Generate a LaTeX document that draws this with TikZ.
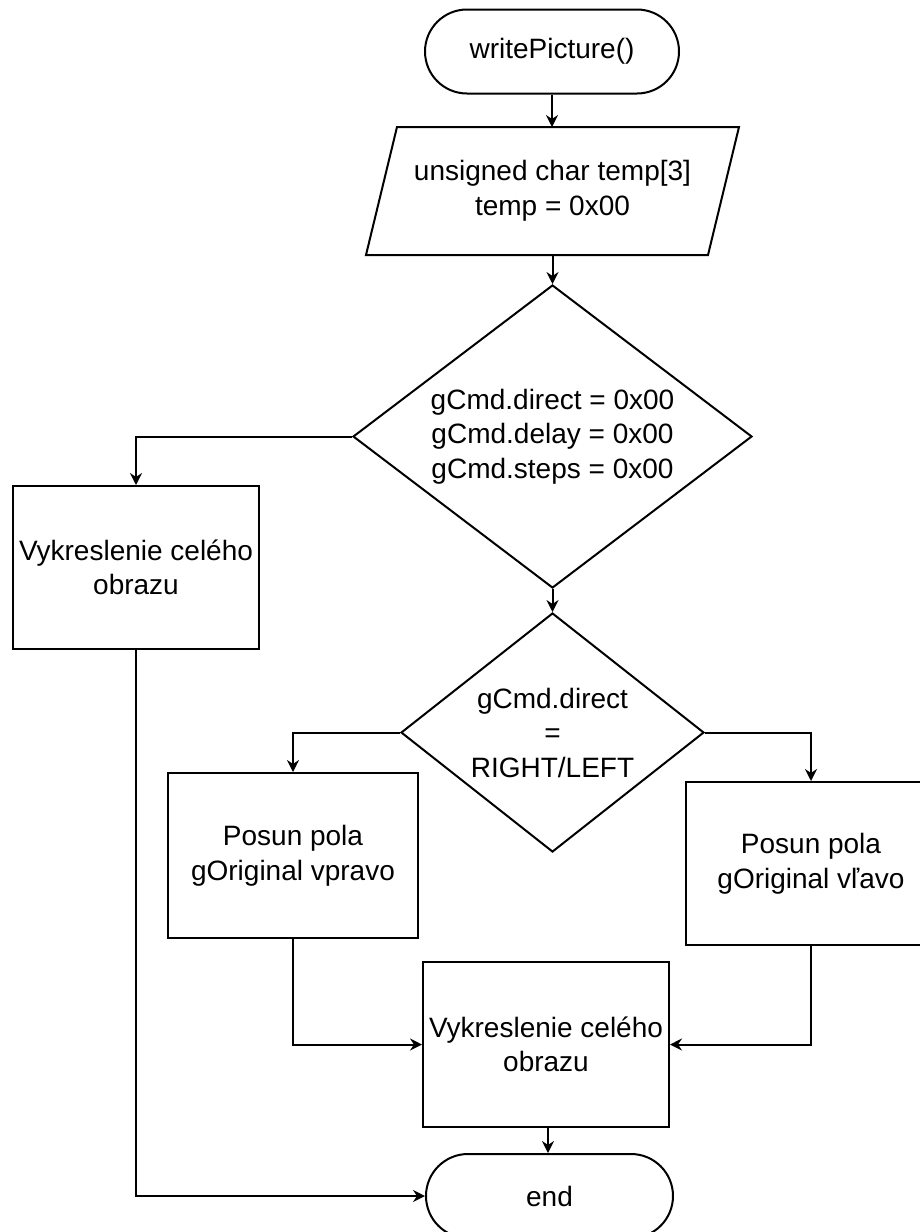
\documentclass[tikz,border=0pt]{standalone}
\usepackage{fontspec}
\setmainfont{Liberation Sans}
\usetikzlibrary{shapes.geometric,shapes.misc,arrows.meta}
\begin{document}
\begin{tikzpicture}[x=1pt,y=-1pt,line width=2pt,
  every node/.style={font=\fontsize{28}{34.5}\selectfont,align=center,inner sep=0pt},
  terminal/.style={draw,rounded rectangle,minimum width=#1,minimum height=84pt},
  procbox/.style={draw,rectangle,minimum width=#1},
  iobox/.style={rectangle,minimum width=340pt,minimum height=126pt},
  decision/.style={draw,diamond},
  flow/.style={-{Stealth[length=12pt,width=12pt,inset=4pt]}}]
\useasboundingbox (0,0) rectangle (920,1232);

% nodes
\node[terminal=254pt] (start) at (552,51.5) {writePicture()};
\node[iobox] (init) at (552.5,191) {unsigned char temp[3]\\temp = 0x00};
\draw ([xshift=15.5pt]init.north west) -- ([xshift=15.5pt]init.north east)
   -- ([xshift=-15.5pt]init.south east) -- ([xshift=-15.5pt]init.south west) -- cycle;
\node[decision,aspect=1.317,minimum width=399pt,minimum height=303pt] (d1) at (552.5,436.5)
  {gCmd.direct = 0x00\\gCmd.delay = 0x00\\gCmd.steps = 0x00};
\node[procbox=246pt,minimum height=163pt] (full1) at (136,567.5) {Vykreslenie celého\\obrazu};
\node[decision,aspect=1.268,minimum width=303pt,minimum height=239pt] (d2) at (552.5,732.5)
  {gCmd.direct\\=\\RIGHT/LEFT};
\node[procbox=250pt,minimum height=165pt] (right) at (293,855.5) {Posun pola\\gOriginal vpravo};
\node[procbox=250pt,minimum height=163pt] (left) at (811,863.5) {Posun pola\\gOriginal vľavo};
\node[procbox=246pt,minimum height=165pt] (full2) at (546,1044.5) {Vykreslenie celého\\obrazu};
\node[terminal=247pt] (stop) at (549.5,1196) {end};

% connectors
\draw[flow] (start.south) -- (start.south |- init.north);
\draw[flow] (init.south) -- (init.south |- d1.north);
\draw[flow] (d1.west) -| (full1.north);
\draw[flow] (d1.south) -- (d2.north);
\draw[flow] (d2.west) -| (right.north);
\draw[flow] (d2.east) -| (left.north);
\draw[flow] (right.south) |- (full2.west);
\draw[flow] (left.south) |- (full2.east);
\draw[flow] ([xshift=2pt]full2.south) -- ([xshift=2pt]full2.south |- stop.north);
\draw[flow] (full1.south) |- (stop.west);
\end{tikzpicture}
\end{document}
